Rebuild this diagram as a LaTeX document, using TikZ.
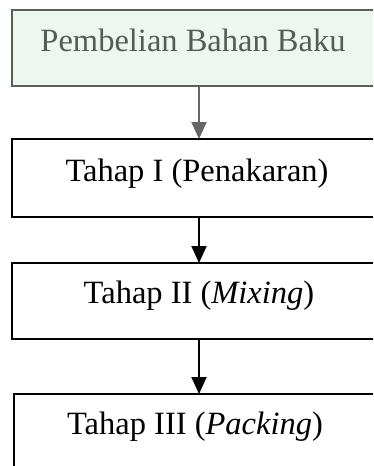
\documentclass[tikz,border=0pt]{standalone}
\usepackage{fontspec}
\setmainfont{Liberation Serif}
\usetikzlibrary{arrows.meta}
\definecolor{mint}{HTML}{EEF6F0}
\definecolor{grayline}{HTML}{5A5F5A}
\definecolor{graytext}{HTML}{555B55}
\definecolor{grayarrow}{HTML}{666666}
\tikzset{
  box/.style={draw, line width=2pt, rectangle, minimum width=374pt, inner sep=0pt},
  lbl/.style={anchor=base, inner sep=0pt, font=\fontsize{32.5}{39}\selectfont},
  arr/.style={line width=2pt, -{Triangle[width=15pt,length=17pt]}, shorten >=-1pt},
}
\begin{document}
\begin{tikzpicture}[x=1pt,y=-1pt]
\useasboundingbox (0,0) rectangle (373,466);
\clip (0,0) rectangle (373,466);
\fill[white] (0,0) rectangle (373,466);
% boxes
\node[box, draw=grayline, fill=mint, minimum height=76pt] (b1) at (199,48) {};
\node[box, minimum height=78pt] (b2) at (199,178) {};
\node[box, minimum height=76pt] (b3) at (199,301) {};
\node[box, minimum height=90pt] (b4) at (201,439) {};
% labels
\node[lbl, text=graytext] (t1) at (193,51) {Pembelian Bahan Baku};
\node[lbl] (t2) at (197,181) {Tahap I (Penakaran)};
\node[lbl] (t3) at (199,303) {Tahap II (\textit{Mixing})};
\node[lbl] (t4) at (195,434) {Tahap III (\textit{Packing})};
% arrows
\draw[arr, draw=grayarrow] (b1.south) -- (b2.north);
\draw[arr] (b2.south) -- (b3.north);
\draw[arr] (b3.south) -- (b4.north -| b3.south);
\end{tikzpicture}
\end{document}
